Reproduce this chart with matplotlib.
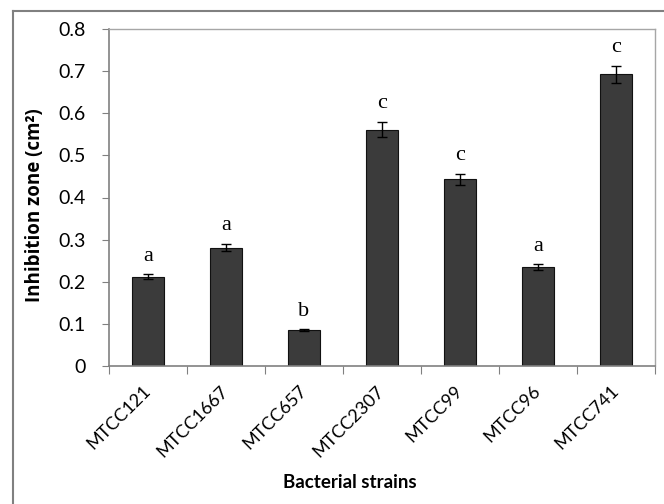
import numpy as np
import matplotlib.pyplot as plt
from matplotlib.lines import Line2D
from matplotlib.transforms import ScaledTranslation

strains = ["MTCC121", "MTCC1667", "MTCC657", "MTCC2307", "MTCC99", "MTCC96", "MTCC741"]
zone = [0.212, 0.281, 0.085, 0.561, 0.443, 0.235, 0.692]
zone_err = [0.006, 0.009, 0.002, 0.018, 0.013, 0.006, 0.020]
groups = ["a", "a", "b", "c", "c", "a", "c"]

W, H = 664, 504
fig = plt.figure(figsize=(W / 100, H / 100), dpi=100)
ax = fig.add_axes([109 / W, 1 - 366 / H, (655 - 109) / W, (366 - 29) / H])

x = np.arange(len(strains))
ax.bar(x, zone, width=0.41, color="#3b3b3b", edgecolor="#111111", linewidth=0.8,
       yerr=zone_err, error_kw=dict(ecolor="black", elinewidth=1.0, capsize=3.6, capthick=1.0))

# significance letters above each error bar
for xi, v, e, g in zip(x, zone, zone_err, groups):
    ax.text(xi, v + e + 0.043, g, ha="center", va="center",
            family="Liberation Serif", fontsize=16)

ax.set_xlim(-0.5, len(strains) - 0.5)
ax.set_ylim(0, 0.8)
ax.set_yticks(np.arange(0, 0.81, 0.1))
ax.set_yticklabels(["0"] + [f"{t:.1f}" for t in np.arange(0.1, 0.81, 0.1)],
                   family="Lato", fontsize=14)

# tick marks between categories, strain names under the bars
ax.set_xticks(np.arange(-0.5, len(strains), 1.0))
ax.set_xticklabels([])
ax.set_xticks(x, minor=True)
ax.set_xticklabels(strains, minor=True, rotation=45, ha="right", va="center",
                   rotation_mode="anchor", family="Lato", fontsize=13)
shift = ScaledTranslation(8 / 100, 0, fig.dpi_scale_trans)
for lbl in ax.get_xticklabels(minor=True):
    lbl.set_transform(lbl.get_transform() + shift)
ax.tick_params(axis="x", which="minor", length=0, pad=16)
ax.tick_params(axis="x", which="major", length=6, direction="out", color="#808080")
ax.tick_params(axis="y", length=5, direction="out", color="#808080", pad=12)

for side in ["left", "bottom"]:
    ax.spines[side].set_color("#808080")
    ax.spines[side].set_linewidth(1.2)
for side in ["top", "right"]:
    ax.spines[side].set_color("#a6a6a6")
    ax.spines[side].set_linewidth(1.0)

fig.text(350 / W, 1 - 483 / H, "Bacterial strains", ha="center", va="center",
         family="Lato", fontweight="bold", fontsize=13.5)
fig.text(35 / W, 1 - 205 / H, "Inhibition zone (cm²)", ha="center", va="center",
         rotation=90, family="Open Sans", fontweight="bold", fontsize=13.5)

# outer frame around the figure (top and left edges)
fig.add_artist(Line2D([13 / W, 1.0], [1 - 11 / H, 1 - 11 / H], color="#808080", linewidth=1.5))
fig.add_artist(Line2D([13 / W, 13 / W], [0.0, 1 - 11 / H], color="#808080", linewidth=1.5))

fig.savefig("out.png", dpi=100)
